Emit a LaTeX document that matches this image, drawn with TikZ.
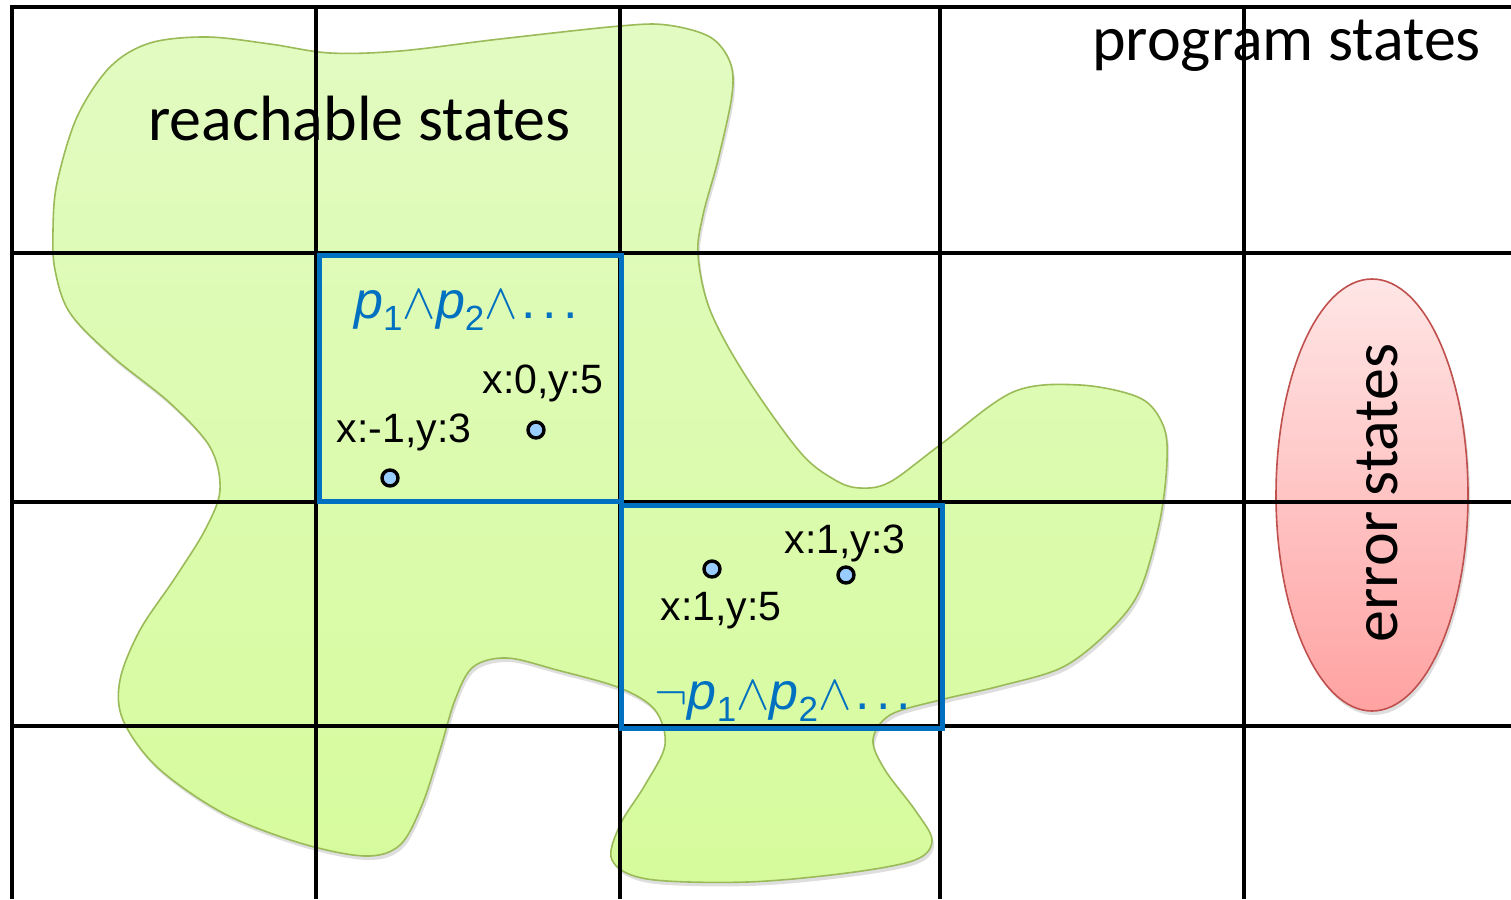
\documentclass[tikz,border=0pt]{standalone}
\usepackage{fontspec}
\newfontfamily\calibrifont{Carlito}
\newfontfamily\arialfont{Liberation Sans}
\definecolor{gridblack}{RGB}{0,0,0}
\definecolor{boxblue}{RGB}{0,112,192}
\definecolor{blobtop}{RGB}{226,251,194}
\definecolor{blobbot}{RGB}{214,251,156}
\definecolor{blobline}{RGB}{155,187,89}
\definecolor{errtop}{RGB}{255,230,230}
\definecolor{errbot}{RGB}{255,162,162}
\definecolor{errline}{RGB}{192,80,77}
\definecolor{dotblue}{RGB}{153,204,255}
\newcommand\pvar[1]{\textit{p}\raisebox{-0.45ex}{\fontsize{35}{35}\selectfont #1}}
\newcommand\wedgesym{\scalebox{5.0}{\normalsize$\wedge$}}
\newcommand\negsym{\scalebox{5.0}{\normalsize$\neg$}}
\newcommand\wideldots{\kern0.08em.\kern0.12em.\kern0.12em.}
\tikzset{
  gridline/.style={line width=3.3pt, draw=gridblack},
  predbox/.style={line width=5pt, draw=boxblue},
  statedot/.style={circle, draw=black, line width=3.4pt, fill=dotblue, minimum size=16pt, inner sep=0pt},
  statelabel/.style={font=\arialfont\fontsize{41}{41}\selectfont, inner sep=0pt, anchor=base},
  predlabel/.style={font=\arialfont\fontsize{52}{52}\selectfont, text=boxblue, inner sep=0pt, anchor=base},
  bigtitle/.style={font=\calibrifont\fontsize{64}{64}\selectfont, inner sep=0pt},
}
\begin{document}
\begin{tikzpicture}[x=1pt, y=-1pt]
\useasboundingbox (0,0) rectangle (1511,899);
\fill[white] (0,0) rectangle (1511,899);
% reachable states blob
\path[preaction={fill=black, opacity=0.13, transform canvas={shift={(2pt,-4pt)}}},
      top color=blobtop, bottom color=blobbot, draw=blobline, line width=1.6pt]
  plot[smooth cycle, tension=0.55] coordinates {
  (207,37) (270,44) (330,53) (400,51) (500,39) (620,26) (667,25) (710,37) (730,62) (732,95)
  (718,160) (703,215) (698,255) (710,310) (745,375) (800,452) (835,480) (860,488) (890,482)
  (940,445) (1013,392) (1080,385) (1140,398) (1163,425) (1167,460) (1160,520) (1140,590)
  (1110,630) (1063,667) (1000,686) (940,700) (890,715) (873,740) (885,770) (915,810) (932,840)
  (915,860) (847,873) (747,882) (647,879) (612,860) (620,825) (645,785) (665,745) (655,710)
  (620,688) (557,670) (507,658) (473,667) (455,700) (440,750) (422,805) (400,845) (365,856)
  (300,843) (223,813) (157,767) (123,720) (120,680) (140,630) (175,578) (205,530) (220,490)
  (210,447) (170,403) (113,357) (70,313) (55,270) (53,230) (57,183) (77,117) (110,67) (150,43)};
% error states ellipse
\path[preaction={fill=black, opacity=0.13, transform canvas={shift={(2pt,-4pt)}}},
      top color=errtop, bottom color=errbot, draw=errline, line width=1.6pt]
  (1372,495) ellipse [x radius=96, y radius=216];
% grid
\coordinate (gtl) at (12,7);
\draw[gridline] (1511,7) -- (12,7) -- (12,899);
\foreach \gx in {316,620,940,1244} \draw[gridline] (\gx,7) -- (\gx,899);
\foreach \gy in {253,502,726} \draw[gridline] (12,\gy) -- (1511,\gy);
% predicate boxes
\draw[predbox] (319,255) rectangle (621,501);
\draw[predbox] (621,505) rectangle (942,728);
% labels
\node[bigtitle, anchor=base west] (reach) at (148,140) {reachable states};
\node[bigtitle, anchor=base west] (prog) at (1092,60) {program states};
\node[bigtitle, anchor=base, rotate=90] (err) at (1397,493) {error states};
\node[predlabel] (pred1) at (466,318) {\pvar{1}\wedgesym\pvar{2}\wedgesym\wideldots};
\node[predlabel] (pred2) at (783,709) {\negsym\pvar{1}\wedgesym\pvar{2}\wedgesym\wideldots};
% states
\node[statedot] (s1) at (390,478) {};
\node[statedot] (s2) at (536,430) {};
\node[statedot] (s3) at (712,569) {};
\node[statedot] (s4) at (846,575) {};
\node[statelabel] (l1) at (404,442) {x:-1,y:3};
\node[statelabel] (l2) at (543,393) {x:0,y:5};
\node[statelabel] (l3) at (845,553) {x:1,y:3};
\node[statelabel] (l4) at (721,620) {x:1,y:5};
\end{tikzpicture}
\end{document}
